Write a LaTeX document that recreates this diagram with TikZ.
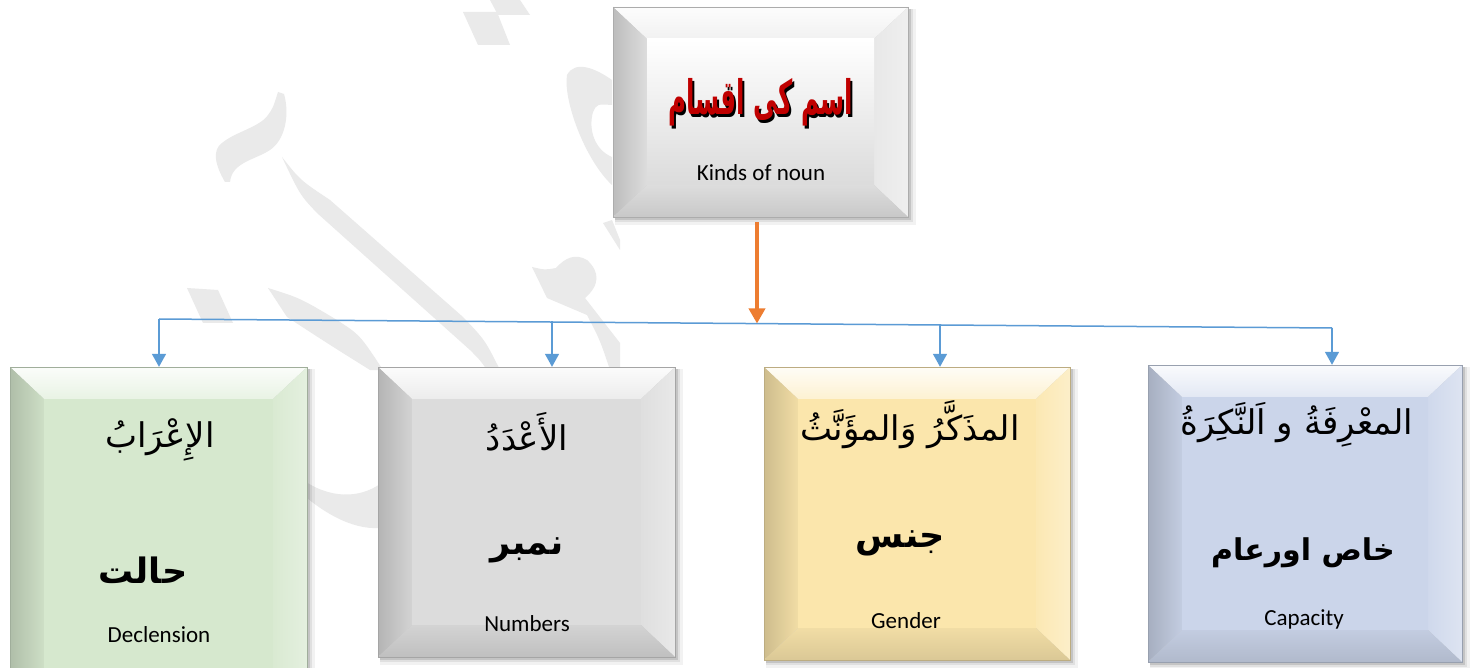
\documentclass[tikz,border=0pt]{standalone}
\usepackage{fontspec}
\setmainfont{Carlito}
\newfontfamily\arabicfont[Script=Arabic]{DejaVu Sans}
\TeXXeTstate=1
\usetikzlibrary{arrows.meta,fit,calc}
\definecolor{cgreen}{RGB}{214,232,206}
\definecolor{cgray}{RGB}{220,220,220}
\definecolor{cyellow}{RGB}{251,230,172}
\definecolor{cblue}{RGB}{203,213,234}
\definecolor{ctop}{RGB}{230,230,230}
\definecolor{wmgray}{RGB}{234,234,234}
\definecolor{busblue}{RGB}{91,155,213}
\definecolor{arrorange}{RGB}{237,125,49}
\definecolor{titlered}{RGB}{192,0,0}

\newcommand\bevbox[6]{%
  \fill[black,opacity=.05] (#2+2,#3+2) rectangle (#4+8,#5+8);
  \fill[black,opacity=.07] (#2+2,#3+2) rectangle (#4+5,#5+5);
  \fill[black,opacity=.12] (#2+2,#3+2) rectangle (#4+3,#5+3);
  \shade[top color=#6!10!white,bottom color=#6!55!white] (#2,#3) -- (#4,#3) -- (#4-34,#3+32) -- (#2+34,#3+32) -- cycle;
  \shade[left color=#6!82!black,right color=#6!96!black] (#2,#3) -- (#2+34,#3+32) -- (#2+34,#5-32) -- (#2,#5) -- cycle;
  \shade[left color=#6!92!white,right color=#6!65!white] (#4,#3) -- (#4,#5) -- (#4-34,#5-32) -- (#4-34,#3+32) -- cycle;
  \shade[top color=#6!96!black,bottom color=#6!87!black] (#2,#5) -- (#2+34,#5-32) -- (#4-34,#5-32) -- (#4,#5) -- cycle;
  \fill[#6] (#2+34,#3+32) rectangle (#4-34,#5-32);
  \draw[#6!75!black,line width=.5pt] (#2,#3) rectangle (#4,#5);
  \node[fit={(#2,#3)(#4,#5)},inner sep=0pt] (#1) {};
}

\tikzset{
  wm/.style={fill=wmgray},
  bus/.style={draw=busblue,line width=1.5pt},
  drop/.style={draw=busblue,line width=1.5pt,-{Triangle[width=14pt,length=13pt]}},
  orangearrow/.style={draw=arrorange,line width=3.5pt,-{Triangle[width=16pt,length=15pt]}},
  ar1/.style={font={\arabicfont\fontsize{34}{40}\selectfont},inner sep=0pt},
  ar2/.style={font={\arabicfont\bfseries\fontsize{35}{42}\selectfont},inner sep=0pt},
  eng/.style={font={\fontsize{23}{28}\selectfont},inner sep=0pt},
  titlefont/.style={font={\arabicfont\bfseries\fontsize{25}{30}\selectfont},inner sep=0pt}
}

\begin{document}
\begin{tikzpicture}[x=1pt,y=-1pt]
\useasboundingbox (0,0) rectangle (1470,668);
\fill[white] (0,0) rectangle (1470,668);

% watermark
\fill[wm] (463,12) -- (497,12) -- (510,45) -- (478,45) -- cycle;
\fill[wm] (490,0) -- (520,0) -- (530,15) -- (498,15) -- cycle;
\fill[wm] (278,92) -- (284,94) .. controls (290,115) and (285,140) .. (270,150)
  .. controls (255,160) and (232,162) .. (230,182) -- (225,182)
  .. controls (215,165) and (212,150) .. (222,143)
  .. controls (235,132) and (260,127) .. (268,115) .. controls (273,108) .. (278,92) -- cycle;
\fill[wm] (282,157) .. controls (300,180) .. (330,200) -- (463,317) .. controls (485,340) .. (500,370)
  -- (487,370) .. controls (480,360) .. (470,350) -- (317,213) .. controls (300,195) .. (282,157) -- cycle;
\fill[wm] (187,288) -- (218,290) -- (233,323) -- (203,323) -- cycle;
\fill[wm] (268,288) .. controls (300,298) .. (337,320) .. controls (360,335) .. (383,370)
  -- (370,370) .. controls (330,345) .. (287,317) -- cycle;
\fill[wm] (300,478) .. controls (330,500) and (360,498) .. (380,484) -- (380,528)
  .. controls (350,530) and (320,510) .. (300,492) -- cycle;
\fill[wm] (612,80) .. controls (595,68) and (575,60) .. (567,75)
  .. controls (563,100) and (585,160) .. (612,185) -- (612,157)
  .. controls (595,150) and (588,130) .. (593,112) .. controls (597,104) .. (612,105) -- cycle;
\fill[wm] (532,267) .. controls (545,270) .. (556,268) .. controls (565,258) and (575,253) .. (587,260)
  .. controls (600,272) and (600,285) .. (585,298) -- (620,343) -- (620,370) -- (610,370)
  .. controls (600,340) .. (587,315) -- (547,298) -- cycle;
\fill[wm] (603,223) -- (612,220) -- (620,240) -- (620,250) -- cycle;

% boxes
\bevbox{top}{613}{7}{908}{217}{ctop}
\shade[top color=white,bottom color=gray!28] (647,39) rectangle (874,185);
\bevbox{box1}{10}{367}{307}{705}{cgreen}
\bevbox{box2}{378}{367}{675}{657}{cgray}
\bevbox{box3}{764}{367}{1070}{660}{cyellow}
\bevbox{box4}{1148}{365}{1462}{662}{cblue}

% texts
\node[titlefont,text=black] (tsh) at (763,105) {\scalebox{0.98}[1.9]{\beginR اسم کی اقسام\endR}};
\node[titlefont,text=titlered] (title) at (761,102) {\scalebox{0.98}[1.9]{\beginR اسم کی اقسام\endR}};
\node[eng] (teng) at (761,173) {Kinds of noun};

\node[ar1] (a1) at (160,440) {\beginR الإِعْرَابُ\endR};
\node[ar2] (u1) at (143,570) {\beginR حالت\endR};
\node[eng] (e1) at (159,635) {Declension};

\node[ar1] (a2) at (527,432) {\beginR الأَعْدَدُ\endR};
\node[ar2] (u2) at (527,550) {\beginR نمبر\endR};
\node[eng] (e2) at (527,624) {Numbers};

\node[ar1] (a3) at (910,425) {\beginR المذَكَّرُ وَالمؤَنَّثُ\endR};
\node[ar2] (u3) at (900,543) {\beginR جنس\endR};
\node[eng] (e3) at (906,621) {Gender};

\node[ar1] (a4) at (1297,425) {\beginR المعْرِفَةُ و اَلنَّكِرَةُ\endR};
\node[ar2,font={\arabicfont\bfseries\fontsize{30}{36}\selectfont}] (u4) at (1303,553) {\beginR خاص اورعام\endR};
\node[eng] (e4) at (1304,619) {Capacity};

% connectors
\coordinate (b1) at (159,319);
\coordinate (b2) at (552,321.5);
\coordinate (bm) at (757,323.5);
\coordinate (b3) at (940,325);
\coordinate (b4) at (1332,328);
\draw[bus] (b1) -- (b4);
\draw[drop] (b1) -- (b1 |- box1.north);
\draw[drop] (b2) -- (b2 |- box2.north);
\draw[drop] (b3) -- (b3 |- box3.north);
\draw[drop] (b4) -- (b4 |- box4.north);
\draw[orangearrow] ($(bm |- top.south)+(0,5)$) -- (bm);
\end{tikzpicture}
\end{document}
